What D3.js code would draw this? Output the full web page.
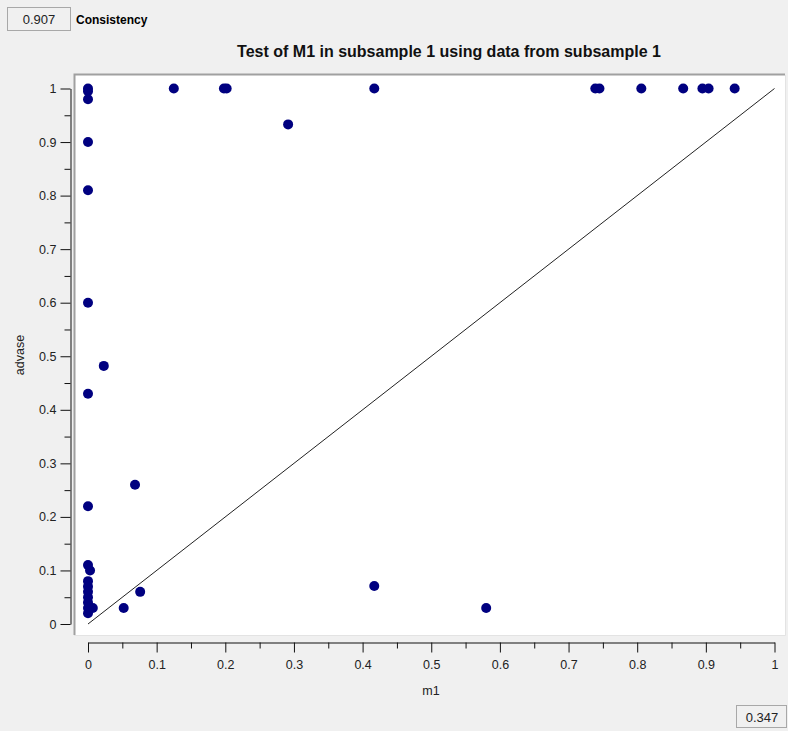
<!DOCTYPE html>
<html>
<head>
<meta charset="utf-8">
<script src="https://cdn.jsdelivr.net/npm/d3@7"></script>
<style>
  body { margin: 0; background: #f0f0f0; }
  svg { display: block; font-family: "Liberation Sans", Arial, sans-serif; }
</style>
</head>
<body>
<svg id="vis" width="788" height="731"></svg>
<script>
// data: m1 (x) vs advase (y)
let m1Vals = [0, 0, 0, 0, 0, 0, 0, 0, 0, 0, 0, 0, 0, 0, 0, 0, 0.003, 0.007,
              0.023, 0.0685, 0.052, 0.076, 0.125, 0.198, 0.202, 0.2915, 0.417, 0.417, 0.58,
              0.739, 0.745, 0.806, 0.867, 0.895, 0.904, 0.942];
let advaseVals = [1, 0.995, 0.98, 0.9, 0.81, 0.6, 0.43, 0.22, 0.11, 0.08, 0.07, 0.06, 0.05, 0.04, 0.03, 0.02, 0.1, 0.03,
              0.482, 0.26, 0.03, 0.06, 1, 1, 1, 0.933, 1, 0.071, 0.03,
              1, 1, 1, 1, 1, 1, 1];
let majorTicks = [0, 0.1, 0.2, 0.3, 0.4, 0.5, 0.6, 0.7, 0.8, 0.9, 1];
let minorTicks = [0.05, 0.15, 0.25, 0.35, 0.45, 0.55, 0.65, 0.75, 0.85, 0.95];
let chartTitle = "Test of M1 in subsample 1 using data from subsample 1";
let consistency = "0.907";
let coverage = "0.347";

var svg = d3.select("#vis");

// x and y scales
var x = d3.scaleLinear().domain([0, 1]).range([88, 774.5]);
var y = d3.scaleLinear().domain([0, 1]).range([624, 88.5]);

// consistency box top left
svg.append("rect").attr("x", 7.5).attr("y", 7.5).attr("width", 63).attr("height", 23)
    .attr("fill", "#f0f0f0").attr("stroke", "#a8a8a8");
svg.append("text").attr("x", 39).attr("y", 24).attr("text-anchor", "middle")
    .style("font-size", "13px").attr("fill", "#222").text(consistency);
svg.append("text").attr("x", 76).attr("y", 24)
    .style("font-size", "12px").style("font-weight", "bold").text("Consistency");

// title
svg.append("text").attr("x", 449).attr("y", 57).attr("text-anchor", "middle")
    .style("font-size", "16px").style("font-weight", "bold").attr("fill", "#111").text(chartTitle);

// plot panel
svg.append("rect").attr("x", 74).attr("y", 75).attr("width", 711).attr("height", 560)
    .attr("fill", "white");
svg.append("path").attr("d", "M74.5,635 V74.5 H785")
    .attr("fill", "none").attr("stroke", "#a0a0a0").attr("stroke-width", 2);
svg.append("path").attr("d", "M785.5,75 V635.5 H74")
    .attr("fill", "none").attr("stroke", "#e3e3e3").attr("stroke-width", 1);

// y axis
svg.append("g").attr("transform", "translate(70.5,0)")
    .call(d3.axisLeft(y).tickValues(majorTicks).tickSize(10).tickSizeOuter(0).tickPadding(4)
        .tickFormat(d3.format("~g")));
svg.append("g").attr("transform", "translate(70.5,0)")
    .call(d3.axisLeft(y).tickValues(minorTicks).tickSize(6).tickFormat(""))
    .select(".domain").remove();

// x axis
svg.append("g").attr("transform", "translate(0,642.5)")
    .call(d3.axisBottom(x).tickValues(majorTicks).tickSize(10).tickSizeOuter(0).tickPadding(8)
        .tickFormat(d3.format("~g")));
svg.append("g").attr("transform", "translate(0,642.5)")
    .call(d3.axisBottom(x).tickValues(minorTicks).tickSize(6).tickFormat(""))
    .select(".domain").remove();

svg.selectAll(".tick text").style("font-size", "12.5px").style("font-family", "\"Liberation Sans\", Arial, sans-serif")
    .attr("fill", "#222");
svg.selectAll(".tick line, .domain").attr("stroke", "#111");

// axis titles
svg.append("text").attr("transform", "translate(24,355) rotate(-90)").attr("text-anchor", "middle")
    .style("font-size", "12.5px").attr("fill", "#222").text("advase");
svg.append("text").attr("x", 431).attr("y", 695).attr("text-anchor", "middle")
    .style("font-size", "12.5px").attr("fill", "#222").text("m1");

// diagonal reference line
svg.append("line")
    .attr("x1", x(0)).attr("y1", y(0))
    .attr("x2", x(1)).attr("y2", y(1))
    .attr("stroke", "#222").attr("stroke-width", 1);

// points
var pts = m1Vals.map((v, i) => ({m1: v, advase: advaseVals[i]}));
svg.selectAll("indPoints")
    .data(pts)
    .enter()
    .append("circle")
    .attr("cx", d => x(d.m1))
    .attr("cy", d => y(d.advase))
    .attr("r", 5)
    .style("fill", "#000080");

// coverage box bottom right
svg.append("rect").attr("x", 736.5).attr("y", 705.5).attr("width", 50).attr("height", 22)
    .attr("fill", "#f0f0f0").attr("stroke", "#a8a8a8");
svg.append("text").attr("x", 762).attr("y", 722).attr("text-anchor", "middle")
    .style("font-size", "13px").attr("fill", "#222").text(coverage);
</script>
</body>
</html>
